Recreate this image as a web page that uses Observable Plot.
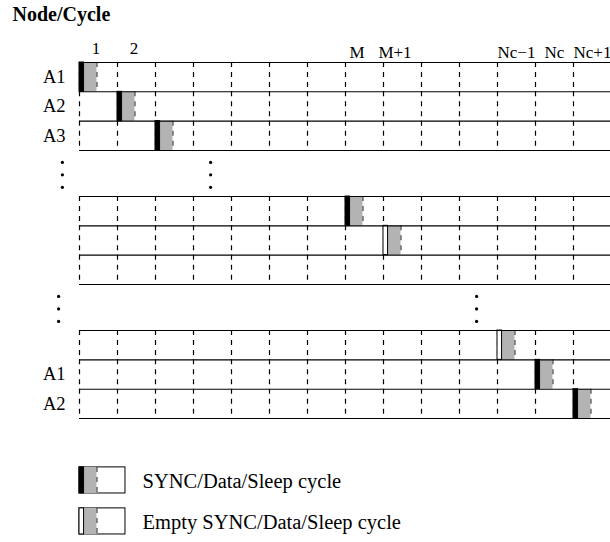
<!DOCTYPE html>
<html><head><meta charset="utf-8">
<script src="https://cdn.jsdelivr.net/npm/d3@7"></script>
<script src="https://cdn.jsdelivr.net/npm/@observablehq/plot@0.6"></script>
<style>html,body{margin:0;padding:0;background:#fff} svg{display:block}</style>
</head><body><div id="chart"></div>
<script>
// ---- data ----
const title = "Node/Cycle";
const cycleLabels = ["1","2","","","","","","M","M+1","","","Nc\u22121","Nc","Nc+1"];
const rowGroup  = [0,0,0,1,1,1,2,2,2];
const rowIndex  = [0,1,2,0,1,2,0,1,2];
const rowLabels = ["A1","A2","A3","","","","","A1","A2"];
const blockCycle = [0,1,2,7,8,null,11,12,13];
const blockKind  = ["sync","sync","sync","sync","empty",null,"empty","sync","sync"];
const ellipsisGap = [0,0,1,1];
const ellipsisCol = [-0.45,3.45,-0.55,10.45];
const legendKinds  = ["sync","empty"];
const legendLabels = ["SYNC/Data/Sleep cycle","Empty SYNC/Data/Sleep cycle"];

// ---- layout constants ----
const NCOL = cycleLabels.length;
const GAP = 1.57;            // rows of empty space between groups
const PER = 3;               // rows per group
const LEAD = 0.12, BODY = 0.46;
const LEG_TOP = 13.807, LEG_STEP = 1.398, LEG_H = 0.89, LEG_W = 1.21;
const GRAY = "#b3b3b3";
const FONT = "'Liberation Serif','Times New Roman',Times,serif";

const rowTop = r => rowGroup[r] * (PER + GAP) + rowIndex[r];
const nGroups = d3.max(rowGroup) + 1;
const yMax = nGroups * PER + (nGroups - 1) * GAP;

// horizontal lines
const hLines = [];
for (let g = 0; g < nGroups; g++) for (let j = 0; j <= PER; j++) hLines.push({y: g * (PER + GAP) + j});
// dashed verticals per row
const vLines = [];
rowGroup.forEach((g, r) => { for (let k = 0; k < NCOL; k++) vLines.push({x: k, y1: rowTop(r), y2: rowTop(r) + 1}); });
// blocks
const blocks = [];
blockCycle.forEach((c, r) => { if (c != null) blocks.push({c, kind: blockKind[r], y1: rowTop(r), y2: rowTop(r) + 1}); });
legendKinds.forEach((k, i) => blocks.push({c: 0, kind: k, y1: LEG_TOP + i * LEG_STEP, y2: LEG_TOP + i * LEG_STEP + LEG_H}));
const legendBoxes = legendKinds.map((k, i) => ({y1: LEG_TOP + i * LEG_STEP, y2: LEG_TOP + i * LEG_STEP + LEG_H, label: legendLabels[i]}));
// ellipsis dots
const dots = [];
ellipsisGap.forEach((g, i) => {
  const c = (g + 1) * PER + g * GAP + GAP * 0.53;
  [-1, 0, 1].forEach(k => dots.push({x: ellipsisCol[i], y: c + k * 0.426}));
});
// labels
const colLabels = cycleLabels.map((t, i) => ({x: i + 0.5, t, i})).filter(d => d.t);
const firstLabels = colLabels.filter(d => d.i < 2);
const midLabels = colLabels.filter(d => d.i === 7 || d.i === 8);
const lastLabels = colLabels.filter(d => d.i > 8);
const rLabels = rowLabels.map((t, r) => ({y: rowTop(r) + 0.5, t})).filter(d => d.t);

const chart = Plot.plot({
  width: 610, height: 542,
  marginTop: 0, marginRight: 0, marginBottom: 0, marginLeft: 0,
  x: {domain: [0, NCOL], range: [79, 611], axis: null},
  y: {domain: [0, yMax], range: [62, 418], axis: null},
  style: {fontFamily: FONT, background: "#fff", color: "#000"},
  marks: [
    // legend frames
    Plot.rect(legendBoxes, {x1: 0, x2: LEG_W, y1: "y1", y2: "y2", fill: "white", stroke: "black", strokeWidth: 1}),
    // dashed verticals
    Plot.ruleX(vLines, {x: "x", y1: "y1", y2: "y2", stroke: "black", strokeWidth: 1.2, strokeDasharray: "5,5"}),
    // gray bodies
    Plot.rect(blocks, {x1: d => d.c + LEAD, x2: d => d.c + BODY, y1: "y1", y2: "y2", fill: GRAY}),
    Plot.ruleX(blocks, {x: d => d.c + BODY, y1: "y1", y2: "y2", stroke: "#444", strokeWidth: 1.2, strokeDasharray: "5,5"}),
    // leading SYNC part
    Plot.rect(blocks, {x1: "c", x2: d => d.c + LEAD, y1: "y1", y2: "y2",
      fill: d => d.kind === "sync" ? "black" : "white", stroke: "black", strokeWidth: 1}),
    // horizontal lines
    Plot.ruleY(hLines, {y: "y", x1: 0, x2: NCOL, stroke: "black", strokeWidth: 1.1}),
    // ellipsis
    Plot.dot(dots, {x: "x", y: "y", r: 1.6, fill: "black", stroke: null}),
    // cycle labels
    Plot.text(firstLabels, {x: "x", y: 0, text: "t", fontSize: 17, fill: "black", dx: -2.5, dy: -14}),
    Plot.text(midLabels, {x: "x", y: 0, text: "t", fontSize: 17, fill: "black", dx: -7.5, dy: -10}),
    Plot.text(lastLabels, {x: "x", y: 0, text: "t", fontSize: 17, fill: "black", dx: 0, dy: -10}),
    // row labels
    Plot.text(rLabels, {x: 0, y: "y", text: "t", textAnchor: "end", dx: -14, fontSize: 18.5, fill: "black"}),
    // legend labels
    Plot.text(legendBoxes, {x: 0, y: d => (d.y1 + d.y2) / 2, text: "label", textAnchor: "start", dx: 63, dy: 1, fontSize: 20.5, fill: "black"}),
    // title
    Plot.text([title], {frameAnchor: "top-left", textAnchor: "start", lineAnchor: "top", dx: 12, dy: 6, fontSize: 20, fontWeight: "bold", fill: "black"})
  ]
});
document.getElementById("chart").appendChild(chart);
</script>
</body></html>
